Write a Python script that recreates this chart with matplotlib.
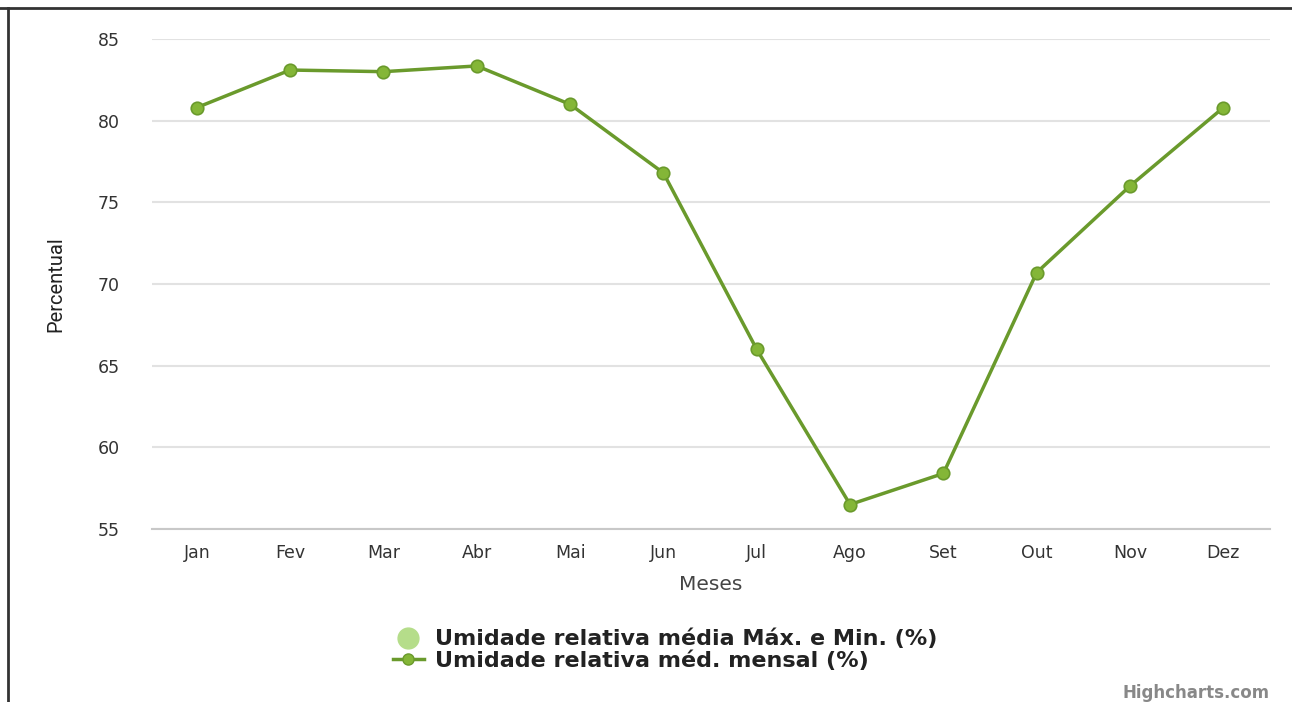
import matplotlib
matplotlib.use("Agg")
import matplotlib.pyplot as plt
from matplotlib.lines import Line2D

# monthly relative humidity (%)
meses = ["Jan", "Fev", "Mar", "Abr", "Mai", "Jun", "Jul", "Ago", "Set", "Out", "Nov", "Dez"]
umidade = [80.8, 83.1, 83.0, 83.35, 81.0, 76.8, 66.0, 56.5, 58.4, 70.7, 76.0, 80.8]
yticks = [55, 60, 65, 70, 75, 80, 85]

plt.rcParams['font.family'] = ['DejaVu Sans']

fig = plt.figure(figsize=(12.92, 7.02), dpi=100)
ax = fig.add_axes([152 / 1292, (702 - 529) / 702, (1270 - 152) / 1292, (529 - 39) / 702])

x = range(len(meses))
ax.plot(x, umidade, '-', color='#6a9a2c', linewidth=2.5, marker='o', markersize=9,
        markerfacecolor='#84b637', markeredgecolor='#6a9a2c', markeredgewidth=1.2, zorder=3)

ax.set_xlim(-0.48, 11.5)
ax.set_ylim(55, 85)
ax.set_yticks(yticks)
ax.set_xticks(list(x))
ax.set_xticklabels(meses)
ax.grid(axis='y', color='#e2e2e2', linewidth=1.5)
ax.set_axisbelow(True)
for s in ['top', 'right', 'left']:
    ax.spines[s].set_visible(False)
ax.spines['bottom'].set_color('#c8c8c8')
ax.spines['bottom'].set_linewidth(1.5)
ax.tick_params(axis='both', length=0, labelsize=12.5, colors='#333333')
ax.tick_params(axis='y', pad=23)
ax.tick_params(axis='x', pad=11)
ax.set_xlabel('Meses', fontsize=14.5, color='#444444', labelpad=9)
ax.set_ylabel('Percentual', fontsize=14.5, color='#222222',
              family=['Liberation Sans Narrow', 'Roboto', 'DejaVu Sans'])
ax.yaxis.set_label_coords((65 - 152) / 1118, 0.5)

handles = [
    Line2D([], [], linestyle='none', marker='o', markersize=15, markerfacecolor='#b5dd8a', markeredgecolor='#b5dd8a'),
    Line2D([], [], color='#6a9a2c', linewidth=2.5, marker='o', markersize=8,
           markerfacecolor='#84b637', markeredgecolor='#6a9a2c'),
]
labels = ['Umidade relativa média Máx. e Min. (%)', 'Umidade relativa méd. mensal (%)']
fig.legend(handles, labels, loc='center', bbox_to_anchor=(665 / 1292, 1 - 650 / 702), frameon=False,
           prop={'weight': 'bold', 'size': 16}, handlelength=1.4, labelspacing=0.05, handletextpad=0.5,
           labelcolor='#222222')

fig.text(1270 / 1292, 1 - 693 / 702, 'Highcharts.com', ha='right', va='center', fontsize=12,
         color='#888888', weight='bold')

# frame lines on top and left
fig.add_artist(Line2D([0, 1], [1 - 8 / 702, 1 - 8 / 702], color='#333333', linewidth=2))
fig.add_artist(Line2D([8 / 1292, 8 / 1292], [0, 1 - 8 / 702], color='#333333', linewidth=2))

fig.savefig('out.png', dpi=100)
